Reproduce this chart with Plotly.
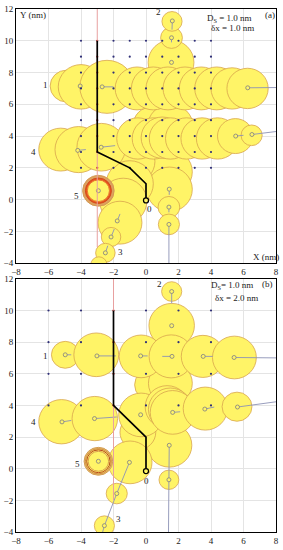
import plotly.graph_objects as go

# ================= DATA : panel (a)  (Ds = 1.0 nm, dx = 1.0 nm) =================
A_CIRC_X = [1.45, 1.45, 1.41, 1.41,                      # right chain
            -0.8, -1.0, -1.4, -1.6, -2.15, -2.5, -2.9,    # chain 3
            1.54, 1.57, 1.6,                              # chain 2
            0.4, 1.5,                                     # between rows
            -5.25, -4.15, -2.75, -0.5, 0.45, 1.0, 1.5, 2.5, 3.45, 4.4, 5.5, 6.5,   # row 4
            -4.9, -4.0, -2.4, -0.55, 0.45, 1.35, 2.4, 3.4, 4.35, 5.3, 6.25]       # row 1
A_CIRC_Y = [1.75, 0.65, -0.47, -1.56,
            2.4, 1.0, -0.1, -1.45, -2.35, -3.35, -4.1,
            8.64, 10.19, 11.22,
            4.66, 4.6,
            3.15, 3.15, 3.3, 3.85, 3.85, 3.9, 3.85, 3.85, 3.85, 3.85, 4.0, 4.05,
            7.15, 7.1, 7.1, 7.0, 7.0, 7.0, 7.0, 7.0, 7.0, 7.0, 7.0]
A_CIRC_R = [1.4, 1.4, 0.67, 0.65,
            1.35, 1.45, 1.45, 1.35, 0.6, 0.6, 0.5,
            1.41, 0.67, 0.62,
            1.2, 1.4,
            1.35, 1.45, 1.5, 1.3, 1.3, 1.3, 1.3, 1.3, 1.3, 1.3, 1.1, 0.65,
            1.0, 1.4, 1.67, 1.35, 1.35, 1.35, 1.35, 1.35, 1.35, 1.3, 1.27]
A_MARK_X = [1.43, 1.41, 1.41, -1.77, -2.15, -2.5, 1.62, 1.57, 1.57, -4.2, -2.76, 5.52, 6.52, -4.05, -2.7, 6.26, -2.93]
A_MARK_Y = [0.66, -0.47, -1.56, -1.34, -2.35, -3.35, 11.25, 10.19, 8.64, 3.1, 3.3, 4.0, 4.1, 7.15, 7.1, 7.04, 0.56]
A_TGT_X = [1.43, 1.41, 1.41, -1.6, -1.95, -2.35, 1.6, 1.57, 1.57, -3.7, -1.9, 6.0, 8.5, -4.05, -2.0, 8.5, -2.93]
A_TGT_Y = [0.3, -0.8, -4.5, -0.9, -1.85, -2.9, 10.7, 9.9, 8.64, 3.15, 3.4, 4.05, 4.35, 7.15, 7.1, 7.06, 0.56]
A_RING_X, A_RING_Y = -2.93, 0.56
A_RING_R = [0.97, 0.8, 0.68]
A_PATH_X = [0, 0, -1, -3, -3]
A_PATH_Y = [-0.05, 1, 2, 3, 10]
A_GRID_XS = [-4, -3, -2, -1, 0, 1, 2, 3, 4]
A_GRID_YS = [2, 3, 4, 5, 6, 7, 8, 9, 10]
A_LAB_TEXT = ["1", "2", "3", "4", "5", "0"]
A_LAB_X = [-6.2, 0.75, -1.6, -6.9, -4.25, 0.2]
A_LAB_Y = [7.2, 11.8, -3.3, 3.0, 0.2, -0.6]

# ================= DATA : panel (b)  (Ds = 1.0 nm, dx = 2.0 nm) =================
B_CIRC_X = [1.44, 1.41,
            -0.5, -0.98, -1.8, -2.56,
            1.58, 1.58,
            0.3, 1.5,
            -5.2, -3.15, -0.3, 1.3, 1.5, 1.64, 3.65, 5.6,
            -4.97, -3.06, -0.3, 1.55, 3.5, 5.44]
B_CIRC_Y = [1.48, -0.7,
            2.3, 0.4, -1.57, -3.6,
            9.05, 11.2,
            5.3, 5.4,
            2.97, 3.17, 3.4, 3.9, 3.75, 3.56, 3.8, 3.92,
            7.2, 7.2, 7.1, 7.1, 7.1, 7.03]
B_CIRC_R = [1.38, 0.61,
            1.1, 1.35, 0.65, 0.62,
            1.4, 0.62,
            1.0, 1.35,
            1.4, 1.4, 1.38, 1.35, 1.35, 1.38, 1.36, 0.92,
            0.85, 1.38, 1.35, 1.36, 1.33, 1.35]
B_MARK_X = [1.43, 1.41, -1.02, -1.8, -2.56, 1.58, 1.58, -5.17, -3.17, -0.33, 1.64, 3.62, 5.63, -4.97, -3.02, -0.33, 1.6, 3.52, 5.42, -2.93]
B_MARK_Y = [1.48, -0.7, 0.4, -1.57, -3.6, 11.2, 9.04, 2.96, 3.17, 3.41, 3.56, 3.77, 3.9, 7.2, 7.13, 7.13, 7.1, 7.1, 7.03, 0.47]
B_TGT_X = [1.41, 1.38, -1.8, -2.56, -2.75, 1.58, 1.58, -4.6, -1.8, -0.33, 2.1, 4.2, 8.5, -4.6, -1.85, 0.1, 1.0, 4.1, 8.5, -2.93]
B_TGT_Y = [-0.7, -4.5, -1.57, -3.6, -4.3, 10.45, 9.04, 3.05, 3.27, 3.41, 3.6, 3.9, 4.3, 7.2, 7.13, 7.13, 7.1, 7.1, 7.0, 0.47]
B_RING_X, B_RING_Y = -2.93, 0.47
B_RING_R = [0.88, 0.8, 0.72, 0.63]
B_PATH_X = [0, 0, -2, -2]
B_PATH_Y = [-0.15, 2, 4, 10]
B_GRID_XS = [-6, -4, -2, 0, 2, 4]
B_GRID_YS = [4, 6, 8, 10]
B_LAB_TEXT = ["1", "2", "3", "4", "5", "0"]
B_LAB_X = [-6.2, 0.8, -1.7, -6.9, -4.2, 0.05]
B_LAB_Y = [7.1, 11.7, -3.2, 2.95, 0.3, -0.75]

TICKS_X = [-8, -6, -4, -2, 0, 2, 4, 6, 8]
TICKS_Y = [-4, -2, 0, 2, 4, 6, 8, 10, 12]

# ================= STYLE =================
FILL = "#FFF467"
EDGE = "#D8A54C"
MARK_LINE = "#8C92B5"
FONT = "Liberation Serif"
A_RING_FILL = ["#DDA15E", "#E8541E", FILL]
A_RING_EDGE = ["#D39A55", "#D24A1C", "#E87A30"]
B_RING_FILL = ["#EBCB72", "#F5E16A", FILL, FILL]
B_RING_EDGE = ["#D39A55", "#D08A40", "#B84A20", "#D8A050"]

fig = go.Figure()
shapes = []
annotations = []


def panel(xr, yr, cx, cy, cr, mx, my, tx, ty, ringx, ringy, ringr, rfill, redge,
          px, py, gxs, gys, redx, lt, lx, ly):
    for x, y, r in zip(cx, cy, cr):
        shapes.append(dict(type="circle", xref=xr, yref=yr, x0=x - r, x1=x + r, y0=y - r, y1=y + r,
                           fillcolor=FILL, line=dict(color=EDGE, width=0.8), layer="between"))
    for r, f, e in zip(ringr, rfill, redge):
        shapes.append(dict(type="circle", xref=xr, yref=yr, x0=ringx - r, x1=ringx + r,
                           y0=ringy - r, y1=ringy + r, fillcolor=f,
                           line=dict(color=e, width=1.0), layer="between"))
    # connector lines of the markers
    lxs, lys = [], []
    for a, b, c, d in zip(mx, my, tx, ty):
        lxs += [a, c, None]
        lys += [b, d, None]
    fig.add_trace(go.Scatter(x=lxs, y=lys, mode="lines", xaxis=xr, yaxis=yr,
                             line=dict(color=MARK_LINE, width=0.9), hoverinfo="skip"))
    fig.add_trace(go.Scatter(x=mx, y=my, mode="markers", xaxis=xr, yaxis=yr,
                             marker=dict(symbol="circle", size=4, color=FILL,
                                         line=dict(color="#7C7C86", width=0.8))))
    # grid dots
    gx, gy, gc = [], [], []
    for xx in gxs:
        for yy in gys:
            gx.append(xx)
            gy.append(yy)
            gc.append("#C01010" if xx == redx else "#303078")
    fig.add_trace(go.Scatter(x=gx, y=gy, mode="markers", xaxis=xr, yaxis=yr,
                             marker=dict(size=2.2, color=gc)))
    # faint continuation of the column
    fig.add_trace(go.Scatter(x=[redx, redx], y=[px[-1], 12], mode="lines", xaxis=xr, yaxis=yr,
                             line=dict(color="#E8A0A0", width=1)))
    # path
    fig.add_trace(go.Scatter(x=px, y=py, mode="lines", xaxis=xr, yaxis=yr,
                             line=dict(color="black", width=1.7)))
    fig.add_trace(go.Scatter(x=[px[0]], y=[py[0]], mode="markers", xaxis=xr, yaxis=yr,
                             marker=dict(symbol="circle", size=5, color=FILL,
                                         line=dict(color="black", width=1.3))))
    for t, x, y in zip(lt, lx, ly):
        annotations.append(dict(x=x, y=y, xref=xr, yref=yr, text=t, showarrow=False,
                                font=dict(family=FONT, size=9, color="#222")))


panel("x", "y", A_CIRC_X, A_CIRC_Y, A_CIRC_R, A_MARK_X, A_MARK_Y, A_TGT_X, A_TGT_Y,
      A_RING_X, A_RING_Y, A_RING_R, A_RING_FILL, A_RING_EDGE,
      A_PATH_X, A_PATH_Y, A_GRID_XS, A_GRID_YS, -3, A_LAB_TEXT, A_LAB_X, A_LAB_Y)
panel("x2", "y2", B_CIRC_X, B_CIRC_Y, B_CIRC_R, B_MARK_X, B_MARK_Y, B_TGT_X, B_TGT_Y,
      B_RING_X, B_RING_Y, B_RING_R, B_RING_FILL, B_RING_EDGE,
      B_PATH_X, B_PATH_Y, B_GRID_XS, B_GRID_YS, -2, B_LAB_TEXT, B_LAB_X, B_LAB_Y)

txt = dict(showarrow=False, font=dict(family=FONT, size=9, color="#222"), xanchor="left")
annotations += [
    dict(x=3.6, y=11.4, xref="x", yref="y", text="D<sub>S</sub> = 1.0 nm", **txt),
    dict(x=3.9, y=10.8, xref="x", yref="y", text="δx = 1.0 nm", **txt),
    dict(x=7.6, y=11.65, xref="x", yref="y", text="(a)", showarrow=False,
         font=dict(family=FONT, size=9, color="#222")),
    dict(x=-7.85, y=11.6, xref="x", yref="y", text="Y (nm)", **txt),
    dict(x=6.45, y=-3.6, xref="x", yref="y", text="X (nm)", **txt),
    dict(x=3.85, y=11.55, xref="x2", yref="y2", text="D<sub>S</sub>= 1.0 nm", **txt),
    dict(x=4.1, y=10.8, xref="x2", yref="y2", text="δx = 2.0 nm", **txt),
    dict(x=7.5, y=11.7, xref="x2", yref="y2", text="(b)", showarrow=False,
         font=dict(family=FONT, size=9, color="#222")),
]

axis_common = dict(showgrid=True, gridcolor="#E4E4E4", gridwidth=1, zeroline=False,
                   showline=True, linecolor="black", linewidth=1, mirror=True, ticks="",
                   tickfont=dict(family=FONT, size=9, color="#222"))
fig.update_layout(
    width=283, height=550, margin=dict(l=15, r=6, t=4, b=13),
    paper_bgcolor="white", plot_bgcolor="white", showlegend=False,
    shapes=shapes, annotations=annotations,
    xaxis=dict(domain=[0, 1], anchor="y", range=[-8, 8], tickvals=TICKS_X, **axis_common),
    yaxis=dict(domain=[0.514, 1], anchor="x", range=[-4, 12], tickvals=TICKS_Y, **axis_common),
    xaxis2=dict(domain=[0, 1], anchor="y2", range=[-8, 8], tickvals=TICKS_X, **axis_common),
    yaxis2=dict(domain=[0, 0.484], anchor="x2", range=[-4, 12], tickvals=TICKS_Y, **axis_common),
)
fig.write_html("out.html", config={"displayModeBar": False},
               post_script="document.body.style.margin='0';document.body.style.overflow='hidden';")
